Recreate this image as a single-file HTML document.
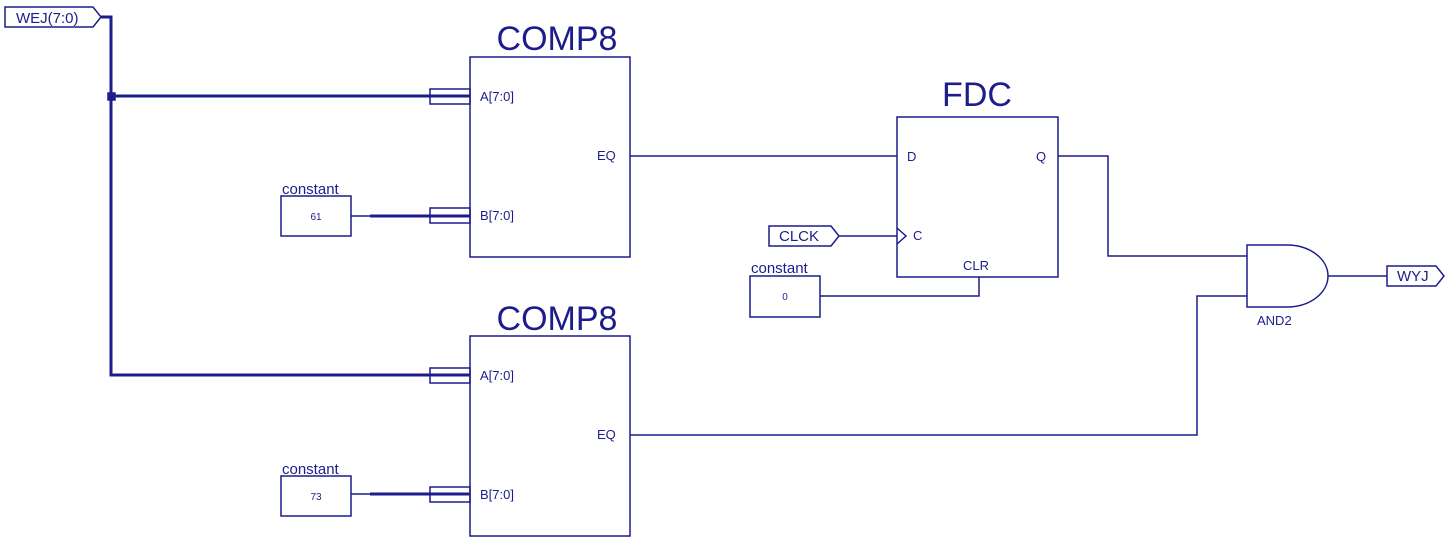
<!DOCTYPE html>
<html><head><style>body{margin:0;background:#fff}svg{display:block}text{font-family:"Liberation Sans",sans-serif;fill:#1c1c8c}</style></head><body>
<svg width="1451" height="542" viewBox="0 0 1451 542" xmlns="http://www.w3.org/2000/svg">
<g fill="none" stroke="#1c1c8c" stroke-width="1.5">
<path d="M5 7 H93 L101 17 L93 27 H5 Z"/>
<path d="M101 17 H111 V375 H470 M111 96 H470 M370 216 H470 M370 494 H470" stroke-width="3"/>
<rect x="108" y="93" width="7" height="7" fill="#1c1c8c"/>
<path d="M351 216 H370 M351 494 H370"/>
<rect x="470" y="57" width="160" height="200"/>
<rect x="430" y="89" width="40" height="15"/>
<rect x="430" y="208" width="40" height="15"/>
<rect x="470" y="336" width="160" height="200"/>
<rect x="430" y="368" width="40" height="15"/>
<rect x="430" y="487" width="40" height="15"/>
<rect x="281" y="196" width="70" height="40"/>
<rect x="281" y="476" width="70" height="40"/>
<rect x="750" y="276" width="70" height="41"/>
<rect x="897" y="117" width="161" height="160"/>
<path d="M897 228 L906 236 L897 244"/>
<path d="M630 156 H897"/>
<path d="M769 226 H831 L839 236 L831 246 H769 Z"/>
<path d="M839 236 H897"/>
<path d="M979 277 V296 H820"/>
<path d="M1058 156 H1108 V256 H1247"/>
<path d="M630 435 H1197 V296 H1247"/>
<path d="M1247 245 H1287 A41 31 0 0 1 1287 307 H1247 Z"/>
<path d="M1328 276 H1387"/>
<path d="M1387 266 H1436 L1444 276 L1436 286 H1387 Z"/>
</g>
<text x="16" y="23" font-size="15">WEJ(7:0)</text>
<text x="557" y="50" font-size="34" text-anchor="middle">COMP8</text>
<text x="557" y="330" font-size="34" text-anchor="middle">COMP8</text>
<text x="977" y="106" font-size="34" text-anchor="middle">FDC</text>
<g font-size="13">
<text x="480" y="101">A[7:0]</text>
<text x="480" y="220">B[7:0]</text>
<text x="597" y="160">EQ</text>
<text x="480" y="380">A[7:0]</text>
<text x="480" y="499">B[7:0]</text>
<text x="597" y="439">EQ</text>
<text x="907" y="161">D</text>
<text x="1036" y="161">Q</text>
<text x="913" y="240">C</text>
<text x="963" y="270">CLR</text>
<text x="1257" y="325">AND2</text>
</g>
<g font-size="15">
<text x="282" y="194">constant</text>
<text x="282" y="474">constant</text>
<text x="751" y="273">constant</text>
<text x="779" y="241">CLCK</text>
<text x="1397" y="281">WYJ</text>
</g>
<g font-size="10" text-anchor="middle">
<text x="316" y="220">61</text>
<text x="316" y="500">73</text>
<text x="785" y="300">0</text>
</g>
</svg>
</body></html>
